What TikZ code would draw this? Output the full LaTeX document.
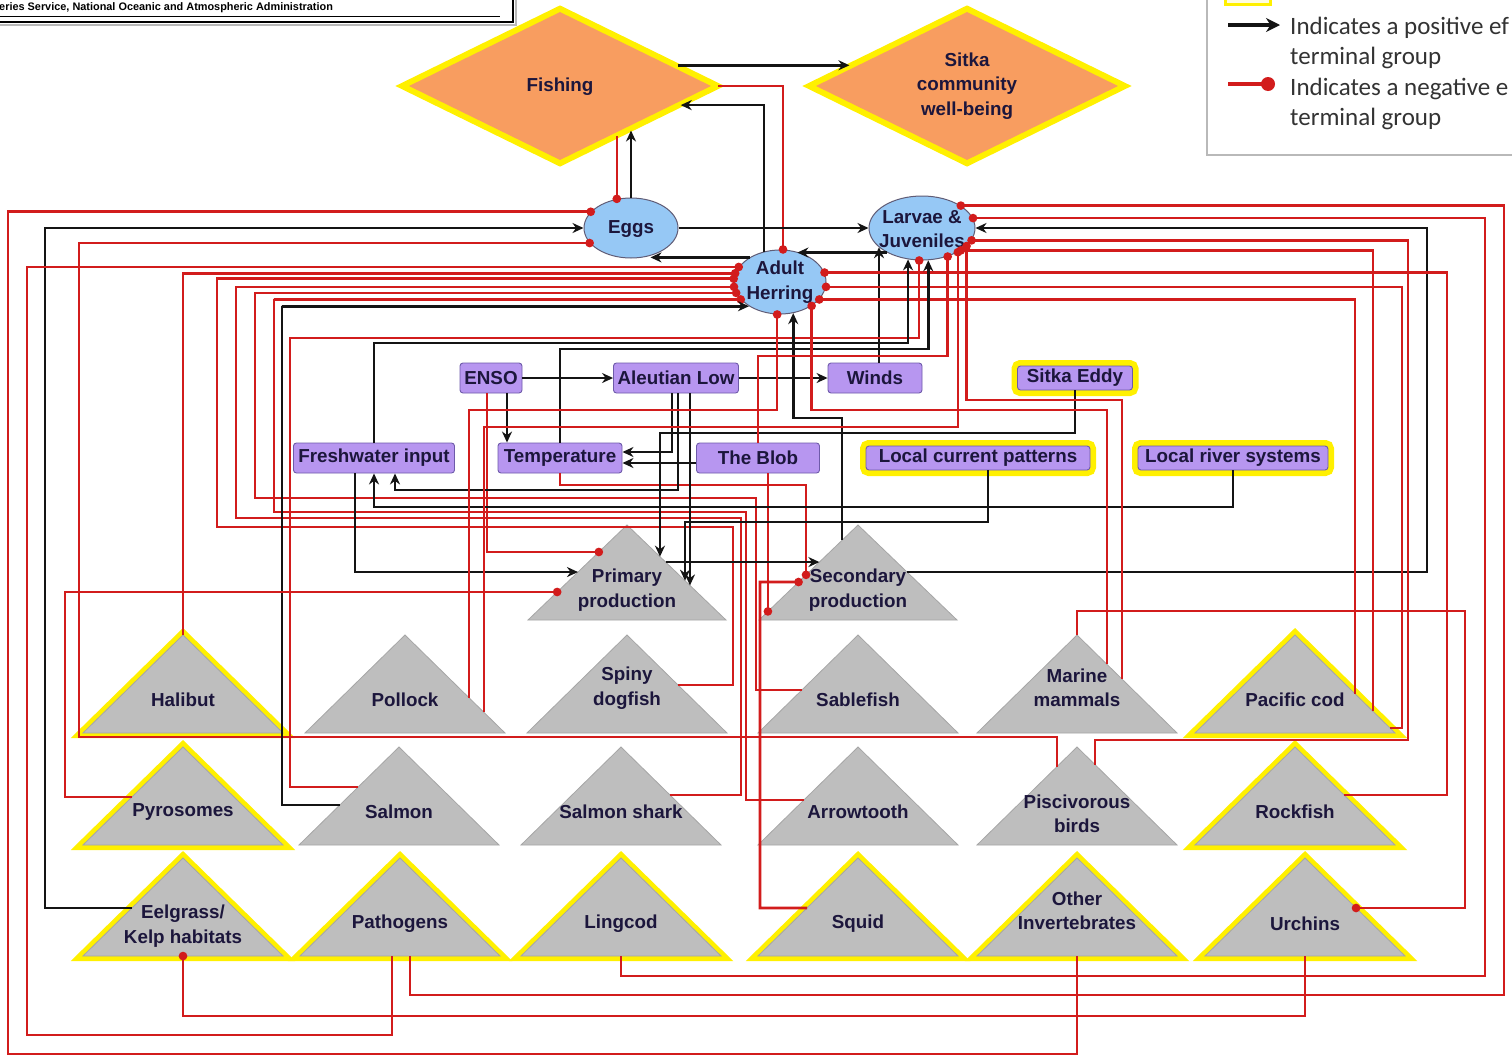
\documentclass[tikz,border=0pt]{standalone}
\usepackage{fontspec}
\setmainfont{Liberation Sans}
\newfontfamily\legfont{Carlito}
\usetikzlibrary{shapes.geometric,arrows.meta,calc}

\definecolor{negred}{RGB}{210,28,28}
\definecolor{posblk}{RGB}{20,20,20}
\definecolor{orfill}{RGB}{248,157,96}
\definecolor{hiyel}{RGB}{255,240,0}
\definecolor{skyfill}{RGB}{150,200,245}
\definecolor{lilac}{RGB}{183,150,240}
\definecolor{lilacedge}{RGB}{110,90,170}
\definecolor{trigray}{RGB}{190,190,190}
\definecolor{ink}{RGB}{28,22,60}

\tikzset{
  lbl/.style={font=\bfseries\fontsize{18.8}{24.5}\selectfont, text=ink, align=center, inner sep=0pt},
  plink/.style={draw=posblk, line width=2.6pt, -{Stealth[length=11pt,width=10pt]}},
  nlink/.style={draw=negred, line width=2.6pt, -{Circle[length=8.5pt]}, shorten >=-4.2pt},
  drv/.style={rectangle, rounded corners=3pt, fill=lilac, draw=lilacedge, line width=0.9pt,
    minimum height=30pt, inner sep=1pt, font=\bfseries\fontsize{18.8}{22}\selectfont, text=ink},
  drvhl/.style={drv, minimum height=24pt, preaction={draw=hiyel, line width=12pt, rounded corners=5pt}},
  bub/.style={ellipse, fill=skyfill, draw=ink!70, line width=1pt, inner sep=0pt},
  dia/.style={diamond, fill=orfill, draw=none, minimum width=306pt, minimum height=152pt,
    inner sep=0pt, outer sep=5pt, preaction={draw=hiyel, line width=12pt}},
  gtri/.style={fill=trigray, draw=gray!70, line width=0.8pt},
  ytri/.style={gtri, preaction={draw=hiyel, line width=10pt, line join=miter}},
  legt/.style={font=\legfont\fontsize{25}{30}\selectfont, text=black!80, inner sep=0pt},
}

% triangle group: name, centre x, apex y, half width, height, style, label, label y
\newcommand\trinode[8]{%
  \coordinate (#1-a) at (#2,#3);
  \coordinate (#1-l) at ({#2-#4},{#3+#5});
  \coordinate (#1-r) at ({#2+#4},{#3+#5});
  \coordinate (#1-b) at (#2,{#3+#5});
  \path[#6] (#1-a) -- (#1-l) -- (#1-r) -- cycle;
  \node[lbl] (#1) at (#2,#8) {#7};}

\begin{document}
\begin{tikzpicture}[x=1pt,y=-1pt]
\useasboundingbox (0,0) rectangle (1512,1058);
\clip (0,0) rectangle (1512,1058);
\fill[white] (0,0) rectangle (1512,1058);

% ---------- fishery and community ----------
\node[dia] (fishing) at (560,86) {};
\node[lbl] (fishing-t) at (560,87) {Fishing};
\node[dia] (sitka) at (967,86) {};
\node[lbl] (sitka-t) at (967,86) {Sitka\\community\\well-being};

% ---------- herring life stages ----------
\node[bub, minimum width=94pt, minimum height=60pt] (eggs) at (631,228) {};
\node[lbl] (eggs-t) at (631,229) {Eggs};
\node[bub, minimum width=106pt, minimum height=64pt] (larvae) at (922,228) {};
\node[lbl] (larvae-t) at (922,229) {Larvae \&\\Juveniles};
\node[bub, minimum width=92pt, minimum height=64pt] (herring) at (780,282) {};
\node[lbl] (herring-t) at (780,282) {Adult\\Herring};

% ---------- physical drivers ----------
\node[drv, minimum width=62pt] (enso) at (491,378) {ENSO};
\node[drv, minimum width=125pt] (aleu) at (676,378) {Aleutian Low};
\node[drv, minimum width=94pt] (winds) at (875,378) {Winds};
\node[drvhl, minimum width=115pt] (eddy) at (1075,378) {Sitka Eddy};
\node[drv, minimum width=161pt] (fresh) at (374,458) {Freshwater input};
\node[drv, minimum width=124pt] (temp) at (560,458) {Temperature};
\node[drv, minimum width=123pt] (blob) at (758,458) {The Blob};
\node[drvhl, minimum width=224pt] (lcp) at (978,458) {Local current patterns};
\node[drvhl, minimum width=190pt] (lrs) at (1233,458) {Local river systems};

% ---------- biological groups ----------
\trinode{prim}{627}{525}{99}{95}{gtri}{Primary\\production}{590}
\trinode{sec}{858}{525}{99}{95}{gtri}{Secondary\\production}{590}

\trinode{hal}{183}{635}{100}{98}{ytri}{Halibut}{700}
\trinode{poll}{405}{635}{100}{98}{gtri}{Pollock}{700}
\trinode{spiny}{627}{635}{100}{98}{gtri}{Spiny\\dogfish}{688}
\trinode{sable}{858}{635}{100}{98}{gtri}{Sablefish}{700}
\trinode{mamm}{1077}{635}{100}{98}{gtri}{Marine\\mammals}{688}
\trinode{pcod}{1295}{635}{100}{98}{ytri}{Pacific cod}{700}

\trinode{pyro}{183}{747}{100}{98}{ytri}{Pyrosomes}{812}
\trinode{salmon}{399}{747}{100}{98}{gtri}{Salmon}{812}
\trinode{shark}{621}{747}{100}{98}{gtri}{Salmon shark}{812}
\trinode{arrowt}{858}{747}{100}{98}{gtri}{Arrowtooth}{812}
\trinode{pisc}{1077}{747}{100}{98}{gtri}{Piscivorous\\birds}{814}
\trinode{rock}{1295}{747}{100}{98}{ytri}{Rockfish}{812}

\trinode{eel}{183}{858}{100}{98}{ytri}{Eelgrass/\\Kelp habitats}{926}
\trinode{patho}{400}{858}{100}{98}{ytri}{Pathogens}{924}
\trinode{ling}{621}{858}{100}{98}{ytri}{Lingcod}{924}
\trinode{squid}{858}{858}{100}{98}{ytri}{Squid}{924}
\trinode{oinv}{1077}{858}{100}{98}{ytri}{Other\\Invertebrates}{911}
\trinode{urch}{1305}{858}{100}{98}{ytri}{Urchins}{924}

% attachment points on the triangle sides
\coordinate (spR) at ($(spiny-a)!.51!(spiny-r)$);
\coordinate (shR) at ($(shark-a)!.49!(shark-r)$);
\coordinate (sbL) at ($(sable-a)!.56!(sable-l)$);
\coordinate (atL) at ($(arrowt-a)!.54!(arrowt-l)$);
\coordinate (smL1) at ($(salmon-a)!.59!(salmon-l)$);
\coordinate (smL2) at ($(salmon-a)!.41!(salmon-l)$);
\coordinate (pyL) at ($(pyro-a)!.51!(pyro-l)$);
\coordinate (egL) at ($(eel-a)!.51!(eel-l)$);
\coordinate (sqL) at ($(squid-a)!.51!(squid-l)$);
\coordinate (urR) at ($(urch-a)!.51!(urch-r)$);
\coordinate (rfR) at ($(rock-a)!.49!(rock-r)$);
\coordinate (pcR1) at ($(pcod-a)!.95!(pcod-r)$);
\coordinate (pcR2) at ($(pcod-a)!.78!(pcod-r)$);
\coordinate (pcR3) at ($(pcod-a)!.60!(pcod-r)$);
\coordinate (pbL) at ($(pisc-a)!.2!(pisc-l)$);
\coordinate (pbR) at ($(pisc-a)!.18!(pisc-r)$);
\coordinate (mmR1) at ($(mamm-a)!.30!(mamm-r)$);
\coordinate (mmR2) at ($(mamm-a)!.45!(mamm-r)$);
\coordinate (poR1) at ($(poll-a)!.64!(poll-r)$);
\coordinate (poR2) at ($(poll-a)!.79!(poll-r)$);
\coordinate (ppL1) at ($(prim-a)!.284!(prim-l)$);
\coordinate (ppL2) at ($(prim-a)!.495!(prim-l)$);
\coordinate (ppL3) at ($(prim-a)!.705!(prim-l)$);
\coordinate (ppR1) at ($(prim-a)!.39!(prim-r)$);
\coordinate (ppR2) at ($(prim-a)!.333!(prim-r)$);
\coordinate (ppR3) at ($(prim-a)!.586!(prim-r)$);
\coordinate (ppR4) at ($(prim-a)!.636!(prim-r)$);
\coordinate (spL1) at ($(sec-a)!.39!(sec-l)$);
\coordinate (spL2) at ($(sec-a)!.6!(sec-l)$);
\coordinate (spL3) at ($(sec-a)!.525!(sec-l)$);
\coordinate (spL4) at ($(sec-a)!.91!(sec-l)$);
\coordinate (spL5) at ($(sec-a)!.16!(sec-l)$);
\coordinate (spR1) at ($(sec-a)!.495!(sec-r)$);
\coordinate (eggT) at (eggs.116);
\coordinate (wdT) at ([xshift=4pt]winds.north);
\coordinate (ensoT) at ([xshift=16pt]enso.south);
\coordinate (fwA) at ([xshift=21pt]fresh.south);
\coordinate (fwB) at (fresh.south);

% ---------- links around the fishery ----------
\draw[plink] (fishing.10) -- (sitka.170);
\draw[nlink] (fishing.east) -| ([xshift=3pt]herring.north);
\draw[plink] (herring.118) |- (fishing.-9);
\draw[plink] (herring.141) -- (herring.141 -| eggs.-55);
\draw[plink] (eggs.north) -- (eggs.north |- fishing.-32);
\draw[nlink] (eggT |- fishing.-40) -- (eggT);
\draw[plink] (eggs.east) -- (larvae.west);
\draw[plink] (larvae.215) -- (larvae.215 -| herring.60);
\draw[plink] (wdT) -- (wdT |- larvae.204);

% ---------- outer left loops ----------
\draw[nlink] (oinv-b) |- (8,1054) |- (eggs.158);
\draw[plink] (egL) -| (45,228) -- (eggs.west);
\draw[nlink] (pbL) |- (79,737) |- (eggs.200);
\draw[nlink] ([xshift=-8pt]patho-b) |- (27,1035) |- (herring.160);
\draw[nlink] (hal-a) |- (herring.169);
\draw[nlink] (spR) -| (733,527) -| (217,279) |- (herring.176);
\draw[nlink] (shR) -| (741,518) -| (236,287) |- (herring.186);
\draw[nlink] (sbL) -| (756,498) -| (255,293) |- (herring.194);
\draw[nlink] (atL) -| (746,512) -| (274,299) |- (herring.204);
\draw[plink] (smL1) -| (282,306) |- (herring.218);
\draw[nlink] (smL2) -| (290,338) -| (larvae.265);

% ---------- outer right loops ----------
\draw[nlink] ([xshift=10pt]patho-b) |- (1504,995) |- (larvae.30);
\draw[nlink] (ling-b) |- (1485,976) |- (larvae.11);
\draw[plink] (spR1) -| (1427,228) -- (larvae.east);
\draw[nlink] (pbR) |- (1408,740) |- (larvae.346);
\draw[nlink] (pcR2) |- (larvae.330);
\draw[nlink] (rfR) -| (1447,273) |- (herring.12);
\draw[nlink] (pcR1) -| (1402,287) |- (herring.354);
\draw[nlink] (pcR3) |- (herring.336);
\draw[nlink] (mamm-a) |- (1465,611) |- (urR);
\draw[nlink] (urch-b) |- (183,1016) -- (eel-b);

% ---------- middle links ----------
\draw[nlink] (sqL) -| (760,582) -- (spL2);
\draw[nlink] (spL4 |- blob.south) -- (spL4);
\draw[nlink] (temp.south) |- (spL3 |- 0,485) -- (spL3);
\draw[nlink] ([xshift=-4pt]enso.south) |- (ppL1);
\draw[nlink] (pyL) -| (65,592) |- (ppL3);
\draw[plink] ([xshift=-19pt]fresh.south) |- (ppL2);
\draw[plink] (ppR1) -- (spL1);
\draw[plink] (eddy.south) |- (ppR2 |- 0,433) -- (ppR2);
\draw[plink] ([xshift=10pt]lcp.south) |- (ppR3 |- 0,522) -- (ppR3);
\draw[plink] (ppR4 |- aleu.south) -- (ppR4);
\draw[plink] ([xshift=-4pt]aleu.south) |- ([yshift=6pt]temp.east);
\draw[plink] ([yshift=-5pt]blob.west) -- ([yshift=-5pt]temp.east);
\draw[plink] ([xshift=2pt]aleu.south) |- (fwA |- 0,490) -- (fwA);
\draw[plink] (lrs.south) |- (fwB |- 0,507) -- (fwB);
\draw[plink] (fresh.north) |- (larvae.246 |- 0,343) -- (larvae.246);
\draw[plink] (temp.north) |- (larvae.281 |- 0,349) -- (larvae.281);
\draw[plink] (enso.east) -- (aleu.west);
\draw[plink] (ensoT) -- (ensoT |- temp.north);
\draw[plink] (aleu.east) -- (winds.west);
\draw[plink] (spL5) |- (herring.293 |- 0,418) -- (herring.293);
\draw[nlink] (poR1) |- (herring.265 |- 0,410) -- (herring.265);
\draw[nlink] (poR2) |- (larvae.326 |- 0,427) -- (larvae.326);
\draw[nlink] (blob.north) |- (larvae.312 |- 0,356) -- (larvae.312);
\draw[nlink] (mmR2) |- (larvae.338 |- 0,400) -- (larvae.338);
\draw[nlink] (mmR1) |- (herring.323 |- 0,410) -- (herring.323);

% ---------- source banner ----------
\draw[gray!55, line width=2pt] (-5,25) -- (516,25) -- (516,-5);
\draw[line width=2.2pt] (-5,22) -- (513,22) -- (513,-5);
\draw[line width=0.8pt] (0,16) -- (500,16);
\node[anchor=base west, inner sep=0pt, font=\bfseries\fontsize{10.9}{12}\selectfont] (hdr) at (-1,10)
  {eries Service, National Oceanic and Atmospheric Administration};

% ---------- key ----------
\draw[gray!55, line width=1.3pt, fill=white] (1207,-10) rectangle (1530,155);
\draw[hiyel, line width=3pt, fill=yellow!12] (1225,-10) rectangle (1270,4);
\coordinate (kp1) at (1228,25);
\coordinate (kp2) at (1280,25);
\draw[draw=posblk, line width=3.5pt, -{Stealth[length=14pt,width=14pt]}] (kp1) -- (kp2);
\coordinate (kn1) at (1228,84);
\coordinate (kn2) at (1268,84);
\draw[negred, line width=3.5pt] (kn1) -- (kn2);
\fill[negred] (kn2) circle (7pt);
\node[legt, anchor=base west] (k1) at (1290,34) {Indicates a positive ef};
\node[legt, anchor=base west] (k2) at (1290,64) {terminal group};
\node[legt, anchor=base west] (k3) at (1290,95) {Indicates a negative e};
\node[legt, anchor=base west] (k4) at (1290,125) {terminal group};
\end{tikzpicture}
\end{document}
